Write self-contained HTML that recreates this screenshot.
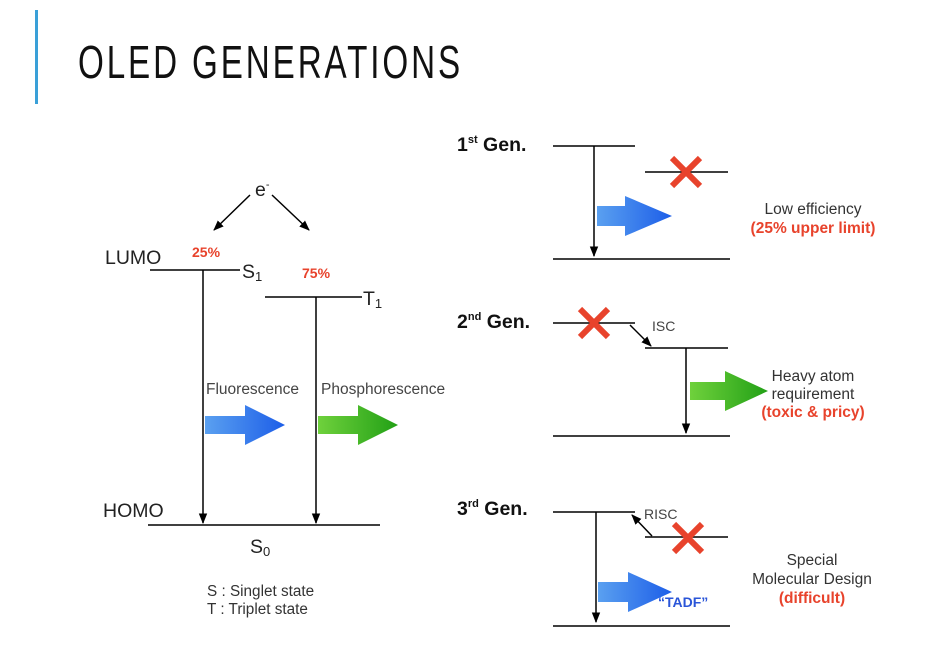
<!DOCTYPE html>
<html><head><meta charset="utf-8"><style>
body{margin:0;background:#fff;}
svg{display:block;font-family:"Liberation Sans",sans-serif;}
</style></head><body>
<svg width="947" height="649" viewBox="0 0 947 649">
<defs>
<marker id="ah" viewBox="0 0 10 10" refX="9" refY="5" markerWidth="7" markerHeight="7" orient="auto"><path d="M0,1 L10,5 L0,9 z" fill="#000"/></marker>
<linearGradient id="gb" x1="0" x2="1"><stop offset="0" stop-color="#5aa0f0"/><stop offset="1" stop-color="#1d5ee8"/></linearGradient>
<linearGradient id="gg" x1="0" x2="1"><stop offset="0" stop-color="#6fd13c"/><stop offset="1" stop-color="#22a016"/></linearGradient>
</defs>
<rect x="35" y="10" width="3" height="94" fill="#3aa0d8"/>
<text x="78" y="78" font-size="46" letter-spacing="4" textLength="385" lengthAdjust="spacingAndGlyphs" fill="#111">OLED GENERATIONS</text>

<g stroke="#000" stroke-width="1.5" fill="none">
<line x1="250" y1="195" x2="214" y2="230" marker-end="url(#ah)"/>
<line x1="272" y1="195" x2="309" y2="230" marker-end="url(#ah)"/>
<line x1="150" y1="270" x2="240" y2="270"/>
<line x1="265" y1="297" x2="362" y2="297"/>
<line x1="148" y1="525" x2="380" y2="525"/>
<line x1="203" y1="270" x2="203" y2="523" marker-end="url(#ah)"/>
<line x1="316" y1="297" x2="316" y2="523" marker-end="url(#ah)"/>
</g>
<g font-size="19.5" fill="#222">
<text x="255" y="196">e<tspan font-size="11" dy="-8">-</tspan></text>
<text x="105" y="264">LUMO</text>
<text x="242" y="278">S<tspan font-size="13" dy="3">1</tspan></text>
<text x="363" y="305">T<tspan font-size="13" dy="3">1</tspan></text>
<text x="103" y="517">HOMO</text>
<text x="250" y="553">S<tspan font-size="13" dy="3">0</tspan></text>
</g>
<text x="192" y="257" font-size="14" font-weight="bold" fill="#e8432c">25%</text>
<text x="302" y="278" font-size="14" font-weight="bold" fill="#e8432c">75%</text>
<text x="206" y="394" font-size="15.5" fill="#444">Fluorescence</text>
<text x="321" y="394" font-size="15.5" fill="#444">Phosphorescence</text>
<path d="M205,416 H245 V405 L285,425 L245,445 V434 H205 z" fill="url(#gb)"/>
<path d="M318,416 H358 V405 L398,425 L358,445 V434 H318 z" fill="url(#gg)"/>
<text x="207" y="596" font-size="15.3" fill="#333">S : Singlet state</text>
<text x="207" y="614" font-size="15.3" fill="#333">T : Triplet state</text>

<g stroke="#000" stroke-width="1.5" fill="none">
<line x1="553" y1="146" x2="635" y2="146"/><line x1="645" y1="172" x2="728" y2="172"/>
<line x1="594" y1="146" x2="594" y2="256" marker-end="url(#ah)"/><line x1="553" y1="259" x2="730" y2="259"/>
<line x1="553" y1="323" x2="635" y2="323"/><line x1="645" y1="348" x2="728" y2="348"/>
<line x1="630" y1="325" x2="651" y2="346" marker-end="url(#ah)"/>
<line x1="686" y1="348" x2="686" y2="433" marker-end="url(#ah)"/><line x1="553" y1="436" x2="730" y2="436"/>
<line x1="553" y1="512" x2="635" y2="512"/><line x1="645" y1="537" x2="728" y2="537"/>
<line x1="652" y1="536" x2="632" y2="515" marker-end="url(#ah)"/>
<line x1="596" y1="512" x2="596" y2="622" marker-end="url(#ah)"/><line x1="553" y1="626" x2="730" y2="626"/>
</g>
<g stroke="#e8432c" stroke-width="6">
<line x1="672" y1="158" x2="700" y2="186"/><line x1="700" y1="158" x2="672" y2="186"/>
<line x1="580" y1="309" x2="608" y2="337"/><line x1="608" y1="309" x2="580" y2="337"/>
<line x1="674" y1="524" x2="702" y2="552"/><line x1="702" y1="524" x2="674" y2="552"/>
</g>
<path d="M597,206 H625 V196 L672,216 L625,236 V226 H597 z" fill="url(#gb)"/>
<path d="M690,382 H725 V371 L768,391 L725,411 V400 H690 z" fill="url(#gg)"/>
<path d="M598,582 H628 V572 L672,592 L628,612 V602 H598 z" fill="url(#gb)"/>
<g font-size="19.5" font-weight="bold" fill="#111">
<text x="457" y="151">1<tspan font-size="11" dy="-8">st</tspan><tspan dy="8"> Gen.</tspan></text>
<text x="457" y="328">2<tspan font-size="11" dy="-8">nd</tspan><tspan dy="8"> Gen.</tspan></text>
<text x="457" y="515">3<tspan font-size="11" dy="-8">rd</tspan><tspan dy="8"> Gen.</tspan></text>
</g>
<text x="652" y="331" font-size="14" fill="#444">ISC</text>
<text x="644" y="519" font-size="14" fill="#444">RISC</text>
<text x="658" y="607" font-size="14" font-weight="bold" fill="#2a55d8">“TADF”</text>
<g font-size="15.5" text-anchor="middle" fill="#333">
<text x="813" y="214">Low efficiency</text>
<text x="813" y="233" font-weight="bold" fill="#e8432c">(25% upper limit)</text>
<text x="813" y="381">Heavy atom</text>
<text x="813" y="399">requirement</text>
<text x="813" y="417" font-weight="bold" fill="#e8432c">(toxic &amp; pricy)</text>
<text x="812" y="565">Special</text>
<text x="812" y="584">Molecular Design</text>
<text x="812" y="603" font-weight="bold" fill="#e8432c">(difficult)</text>
</g>
</svg>
</body></html>
